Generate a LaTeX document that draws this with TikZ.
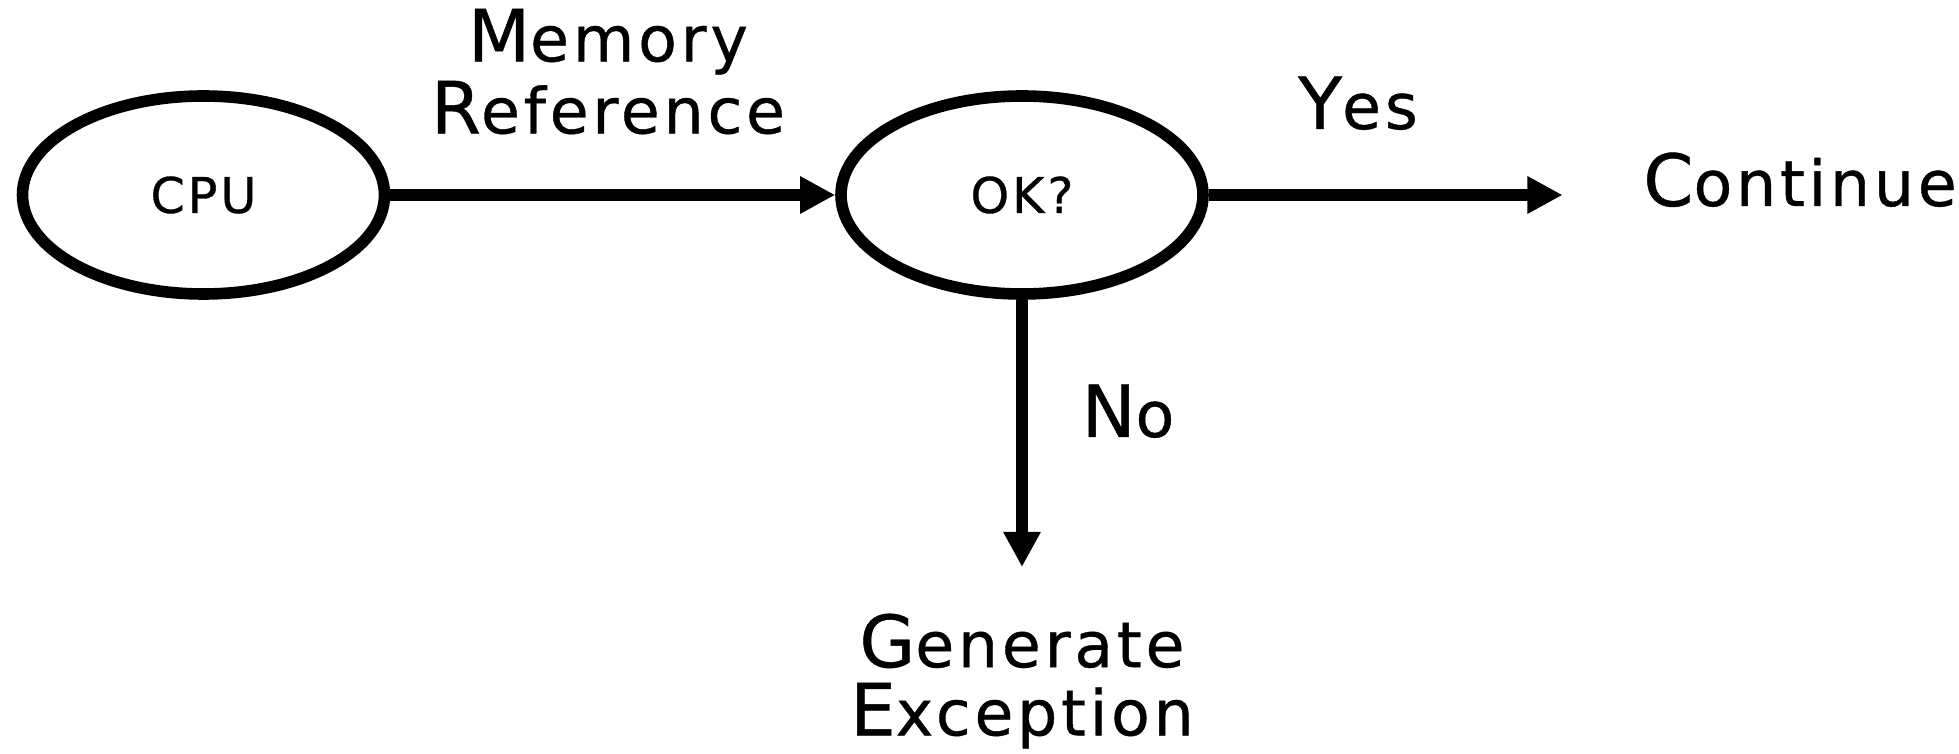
\documentclass[tikz,border=0pt]{standalone}
\usepackage{fontspec}
\setmainfont{DejaVu Sans}[LetterSpace=6, FakeBold=0.6]
\usetikzlibrary{positioning}
\usetikzlibrary{shapes.geometric}
\usetikzlibrary{arrows.meta}
\tikzset{>={Triangle[length=10pt,width=10pt]}}
\tikzset{blob/.style={draw, ellipse, line width=3.3pt, minimum width=3.62cm, minimum height=1.98cm, font=\fontsize{14}{16}\selectfont}}
\tikzset{lbl/.style={inner sep=0pt, align=center, font=\fontsize{18}{20.5}\selectfont}}
\tikzset{flow/.style={->, line width=3.3pt}}
\newcommand\bigini[1]{{\fontsize{20.5}{20.5}\selectfont #1}}

\begin{document}
\begin{tikzpicture}
        \useasboundingbox (0,0) rectangle (19.59,-7.54);

        \node[blob] (cpu) at (2.035, -1.95) {CPU};
        \node[blob] (ok) at (10.22, -1.95) {OK?};

        \node[lbl, anchor=south] (memref) at (6.08, -1.35) {\bigini{M}emory\\\bigini{R}eference};
        \node[lbl, anchor=base] (yes) at (13.58, -1.29) {\bigini{Y}es};
        \node[lbl, anchor=base] (cont) at (18.00, -2.06) {\bigini{C}ontinue};
        \node[lbl, anchor=base] (no) at (11.28, -4.37) {\bigini{N}o};
        \node[lbl, anchor=north, font=\fontsize{18}{19.4}\selectfont] (exc) at (10.22, -6.13) {\bigini{G}enerate\\\bigini{E}xception};

        \draw[flow] (cpu) -- (ok);
        \draw[flow, shorten >=0.8cm] (ok) -- (ok -| cont.west);
        \draw[flow, shorten >=0.46cm] (ok) -- (exc);
\end{tikzpicture}
\end{document}
